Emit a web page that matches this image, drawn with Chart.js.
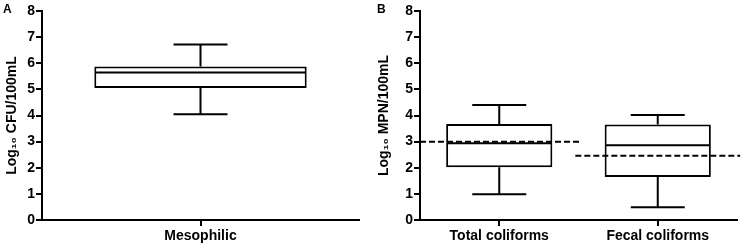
<!DOCTYPE html>
<html>
<head>
<meta charset="utf-8">
<script src="https://cdn.jsdelivr.net/npm/chart.js@4.4.1/dist/chart.umd.min.js"></script>
<style>
body{margin:0;background:#fff;width:744px;height:250px;overflow:hidden;position:relative;font-family:"Liberation Sans",Arial,sans-serif;}
.panel{position:absolute;top:0;width:372px;height:250px;}
.tag{position:absolute;top:2px;font-weight:bold;font-size:12px;color:#000;}
</style>
</head>
<body>
<div class="panel" style="left:0"><canvas id="chartA" width="372" height="250"></canvas></div>
<div class="panel" style="left:372px"><canvas id="chartB" width="372" height="250"></canvas></div>
<div class="tag" style="left:3px">A</div>
<div class="tag" style="left:377px">B</div>
<script>
// panel A
const mesoLabels=["Mesophilic"];
const mesoMin=[4.05];
const mesoQ1=[5.05];
const mesoMed=[5.65];
const mesoQ3=[5.88];
const mesoMax=[6.72];

// panel B
const coliLabels=["Total coliforms","Fecal coliforms"];
const coliMin=[0.99,0.49];
const coliQ1=[2.02,1.65];
const coliMed=[2.94,2.86];
const coliQ3=[3.67,3.66];
const coliMax=[4.40,4.02];
const coliLimit=[3.0,2.46];

const font='"Liberation Sans", Arial, sans-serif';

// median, whiskers and dashed limit lines, placed with the chart's own scales
const boxExtras={
id:"boxExtras",
afterDatasetsDraw(chart){
const ctx=chart.ctx;
const ds=chart.data.datasets[0];
const meta=chart.getDatasetMeta(0);
const y=chart.scales.y;
const x=chart.scales.x;
const area=chart.chartArea;
ctx.save();
ctx.strokeStyle="#000";
ctx.lineWidth=2;
ctx.lineCap="butt";
meta.data.forEach((bar,i)=>{
const half=bar.width/2;
const cap=27;
ctx.beginPath();
ctx.moveTo(bar.x-half+1,y.getPixelForValue(ds.med[i]));
ctx.lineTo(bar.x+half-1,y.getPixelForValue(ds.med[i]));
// upper whisker
ctx.moveTo(bar.x,y.getPixelForValue(ds.data[i][1]));
ctx.lineTo(bar.x,y.getPixelForValue(ds.hi[i]));
ctx.moveTo(bar.x-cap,y.getPixelForValue(ds.hi[i]));
ctx.lineTo(bar.x+cap,y.getPixelForValue(ds.hi[i]));
// lower whisker
ctx.moveTo(bar.x,y.getPixelForValue(ds.data[i][0]));
ctx.lineTo(bar.x,y.getPixelForValue(ds.lo[i]));
ctx.moveTo(bar.x-cap,y.getPixelForValue(ds.lo[i]));
ctx.lineTo(bar.x+cap,y.getPixelForValue(ds.lo[i]));
ctx.stroke();
});
if(ds.limit){
const band=x.width/chart.data.labels.length;
ctx.setLineDash([6,3]);
ds.limit.forEach((v,i)=>{
const c=x.getPixelForValue(i);
const py=y.getPixelForValue(v);
ctx.beginPath();
ctx.moveTo(Math.max(c-band*0.52,area.left),py);
ctx.lineTo(Math.min(c+band*0.52,chart.width-2),py);
ctx.stroke();
});
}
ctx.restore();
}
};

function makeChart(id,labels,q1,q3,med,lo,hi,limit,title,axisW,rightPad){
const ds={
data:q1.map((v,i)=>[v,q3[i]]),
med:med,
lo:lo,
hi:hi,
limit:limit,
backgroundColor:"#fff",
borderColor:"#000",
borderWidth:2,
borderSkipped:false,
barPercentage:0.67,
categoryPercentage:1
};
return new Chart(document.getElementById(id),{
type:"bar",
data:{labels:labels,datasets:[ds]},
plugins:[boxExtras],
options:{
responsive:false,
animation:false,
layout:{padding:{top:11,right:rightPad,bottom:0,left:0}},
plugins:{legend:{display:false},tooltip:{enabled:false}},
scales:{
x:{
offset:true,
grid:{display:true,drawOnChartArea:false,offset:false,tickLength:6,color:"#000",lineWidth:2},
border:{display:true,color:"#000",width:2},
ticks:{color:"#000",font:{family:font,size:14,weight:"bold"},maxRotation:0,autoSkip:false,padding:2},
afterFit(s){s.height=30;s.paddingLeft=0;s.paddingRight=0;}
},
y:{
min:0,
max:8,
grid:{display:true,drawOnChartArea:false,tickLength:6,color:"#000",lineWidth:2},
border:{display:true,color:"#000",width:2},
ticks:{stepSize:1,color:"#000",font:{family:font,size:14,weight:"bold"},padding:1},
title:{display:true,text:title,color:"#000",font:{family:font,size:14,weight:"bold"},padding:{top:4,bottom:0}},
afterFit(s){s.width=axisW;s.paddingTop=0;s.paddingBottom=0;}
}
}
}
});
}

makeChart("chartA",mesoLabels,mesoQ1,mesoQ3,mesoMed,mesoMin,mesoMax,null,"Log\u2081\u2080 CFU/100mL",42,13);
makeChart("chartB",coliLabels,coliQ1,coliQ3,coliMed,coliMin,coliMax,coliLimit,"Log\u2081\u2080 MPN/100mL",48,7);
</script>
</body>
</html>
